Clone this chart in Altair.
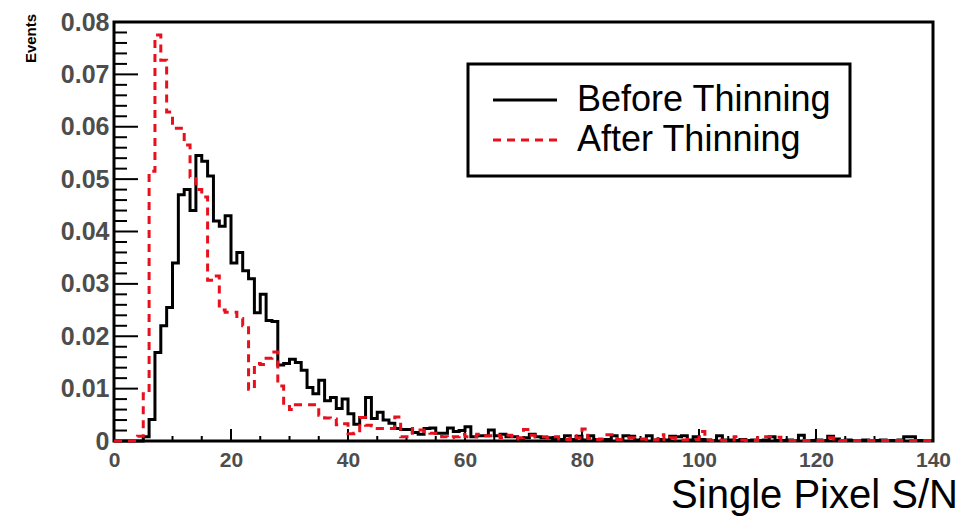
import altair as alt
import pandas as pd

# ---- data -------------------------------------------------------------
series_names = ["Before Thinning", "After Thinning"]
bin_start = 0
bin_width = 1
n_bins = 140

before = [
    0, 0, 0, 0, 0, 0.0008, 0.0041, 0.0169, 0.022, 0.0255,
    0.034, 0.047, 0.048, 0.044, 0.0545, 0.0534, 0.0506, 0.042, 0.041, 0.043,
    0.034, 0.036, 0.0325, 0.031, 0.0245, 0.028, 0.023, 0.0228, 0.0145, 0.0148,
    0.0156, 0.015, 0.0135, 0.0102, 0.009, 0.0116, 0.0077, 0.0083, 0.0062, 0.008,
    0.0052, 0.0032, 0.0045, 0.0083, 0.0043, 0.0055, 0.004, 0.0034, 0.0024, 0.0022,
    0.0022, 0.0016, 0.0013, 0.0024, 0.0025, 0.0015, 0.0015, 0.0025, 0.0018, 0.002,
    0.0027, 0.0008, 0.001, 0.001, 0.0021, 0.001, 0.0013, 0.0008, 0.0008, 0.0005,
    0.0006, 0.0013, 0.0008, 0.0006, 0.0006, 0.0005, 0.0003, 0.001, 0.0003, 0.0009,
    0.0002, 0.001, 0.0003, 0.0002, 0.0003, 0.001, 0.0003, 0.001, 0.0009, 0.0002,
    0.0003, 0.001, 0.0002, 0.0003, 0.0002, 0.0009, 0.0008, 0.001, 0.0002, 0.0008,
    0.0003, 0.0002, 0.0001, 0.001, 0.0002, 0.0002, 0.0001, 0.0003, 0.0001, 0.0002,
    0.0001, 0.0002, 0.0008, 0.0001, 0.0001, 0.0002, 0.0001, 0.0011, 0.0001, 0.0001,
    0.0002, 0.0001, 0.0009, 0.0004, 0.0001, 0.0002, 0.0001, 0.0001, 0.0002, 0.0001,
    0.0001, 0.0002, 0.0001, 0.0001, 0.0002, 0.0008, 0.0008, 0.0001, 0.0001, 0.0001,
]

after = [
    0, 0, 0, 0, 0.0009, 0.009, 0.0515, 0.0775, 0.0727, 0.0628,
    0.0597, 0.0597, 0.0565, 0.0504, 0.048, 0.0466, 0.0307, 0.0315, 0.025, 0.0246,
    0.0246, 0.0234, 0.022, 0.0099, 0.0148, 0.0146, 0.0158, 0.017, 0.0105, 0.0066,
    0.006, 0.0069, 0.0069, 0.0069, 0.0069, 0.0049, 0.0044, 0.0042, 0.0031, 0.0033,
    0.0014, 0.0015, 0.0045, 0.003, 0.0029, 0.0024, 0.0024, 0.0024, 0.0046, 0.0008,
    0.0008, 0.0024, 0.0021, 0.0018, 0.0015, 0.0015, 0.0008, 0.0006, 0.0008, 0.0013,
    0.0008, 0.0008, 0.0013, 0.001, 0.001, 0.0011, 0.0006, 0.0011, 0.0004, 0.0006,
    0.0022, 0.0011, 0.0008, 0.0008, 0.0006, 0.0008, 0.0004, 0.0003, 0.001, 0.0006,
    0.0023, 0.0005, 0.0003, 0.0004, 0.0012, 0.0012, 0.0003, 0.0005, 0.0006, 0.0004,
    0.0004, 0.0003, 0.0002, 0.0012, 0.0003, 0.0006, 0.0004, 0.0002, 0.0003, 0.0003,
    0.0018, 0.0002, 0.0001, 0.0002, 0.0001, 0.0002, 0.0008, 0.0002, 0.0001, 0.0001,
    0.0006, 0.0008, 0.0008, 0.0007, 0.0001, 0.0001, 0.0001, 0.0001, 0.0001, 0.0001,
    0.0001, 0.0001, 0.0006, 0.0004, 0.0001, 0.0001, 0.0001, 0.0001, 0.0001, 0.0001,
    0.0001, 0.0001, 0.0001, 0.0001, 0.0001, 0.0001, 0.0001, 0.0001, 0.0001, 0.0001,
]

x_tick_values = [0, 20, 40, 60, 80, 100, 120, 140]
x_minor_values = [v for v in range(5, 140, 5) if v % 20 != 0]
y_tick_values = [0, 0.01, 0.02, 0.03, 0.04, 0.05, 0.06, 0.07, 0.08]
y_major_inner = [0.01, 0.02, 0.03, 0.04, 0.05, 0.06, 0.07]
y_minor_values = [round(i * 0.002, 4) for i in range(1, 40) if i % 5 != 0]

# ---- build table --------------------------------------------------------
rows = []
for name, vals in zip(series_names, [before, after]):
    for i, v in enumerate(vals):
        rows.append({"x": bin_start + i * bin_width, "y": v, "series": name})
    rows.append({"x": bin_start + n_bins * bin_width, "y": vals[-1], "series": name})
df = pd.DataFrame(rows)

RED = "#e8101c"
W, H = 819, 419
FONT = "Liberation Sans"

xscale = alt.Scale(domain=[0, 140], nice=False, zero=False)
yscale = alt.Scale(domain=[0, 0.08], nice=False, zero=False)

x_axis = alt.Axis(
    values=x_tick_values,
    format="d",
    labelFontSize=21,
    labelFontWeight="bold",
    labelColor="#4d4d4d",
    labelFont=FONT,
    labelPadding=8,
    labelFlush=False,
    ticks=False,
    domain=False,
    grid=False,
    title="Single Pixel S/N",
    titleFontSize=40,
    titleFontWeight="normal",
    titleColor="black",
    titleFont=FONT,
    titleX=700,
    titleY=54,
    titleAlign="center",
    titleBaseline="middle",
)

y_axis = alt.Axis(
    values=y_tick_values,
    labelExpr="datum.value == 0 ? '0' : format(datum.value, '.2f')",
    labelFontSize=25,
    labelFontWeight="bold",
    labelColor="#4d4d4d",
    labelFont=FONT,
    labelPadding=5,
    ticks=False,
    domain=False,
    grid=False,
    title="Events",
    titleFontSize=15,
    titleFontWeight="bold",
    titleColor="black",
    titleFont=FONT,
    titleX=-84,
    titleY=16,
    titleAngle=270,
    titleAlign="center",
    titleBaseline="middle",
)

legend = alt.Legend(
    title=None,
    orient="none",
    legendX=354,
    legendY=42,
    symbolType="M-4,0H4",
    symbolSize=256,
    symbolStrokeWidth=3,
    symbolOffset=21,
    labelOffset=34,
    labelFontSize=36,
    labelFont=FONT,
    labelColor="black",
    labelLimit=500,
    rowPadding=4,
    padding=18,
    strokeColor="black",
    fillColor="white",
)

lines = alt.Chart(df).mark_line(interpolate="step-after", strokeWidth=3, strokeCap="butt").encode(
    x=alt.X("x:Q", scale=xscale, axis=x_axis),
    y=alt.Y("y:Q", scale=yscale, axis=y_axis),
    color=alt.Color(
        "series:N",
        scale=alt.Scale(domain=series_names, range=["black", RED]),
        legend=legend,
    ),
    strokeDash=alt.StrokeDash(
        "series:N",
        scale=alt.Scale(domain=series_names, range=[[1, 0], [8, 6]]),
        legend=legend,
    ),
)

ymaj = alt.Chart(pd.DataFrame({"y": y_major_inner})).mark_rule(color="black", strokeWidth=2).encode(
    y=alt.Y("y:Q", scale=yscale, axis=y_axis), x=alt.value(0), x2=alt.value(24)
)
ymin = alt.Chart(pd.DataFrame({"y": y_minor_values})).mark_rule(color="black", strokeWidth=2).encode(
    y=alt.Y("y:Q", scale=yscale, axis=y_axis), x=alt.value(0), x2=alt.value(13)
)
xmaj = alt.Chart(pd.DataFrame({"x": x_tick_values[1:-1]})).mark_rule(color="black", strokeWidth=2).encode(
    x=alt.X("x:Q", scale=xscale, axis=x_axis), y=alt.value(H), y2=alt.value(H - 12)
)
xmin = alt.Chart(pd.DataFrame({"x": x_minor_values})).mark_rule(color="black", strokeWidth=2).encode(
    x=alt.X("x:Q", scale=xscale, axis=x_axis), y=alt.value(H), y2=alt.value(H - 5)
)

chart = (
    alt.layer(ymaj, ymin, xmaj, xmin, lines)
    .properties(
        width=W,
        height=H,
        autosize=alt.AutoSizeParams(type="none"),
        padding={"left": 114, "top": 22, "right": 47, "bottom": 79},
        background="white",
    )
    .configure(font=FONT)
    .configure_view(stroke="black", strokeWidth=3)
    .configure_legend(strokeWidth=3)
)

chart.save("out.html", embed_options={"renderer": "svg", "actions": False})
